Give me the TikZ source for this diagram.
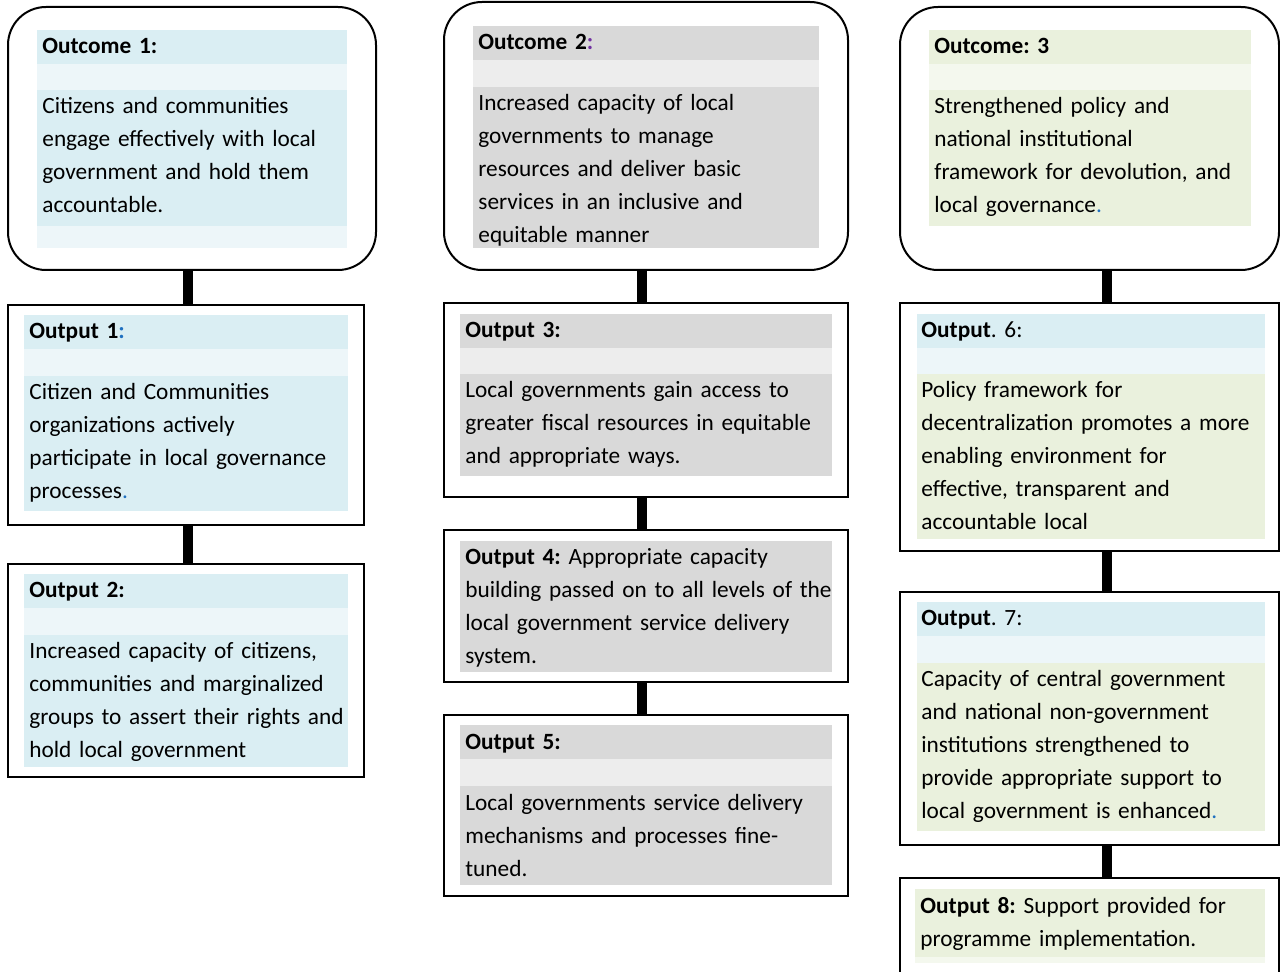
\documentclass[tikz,border=0pt]{standalone}
\usepackage{fontspec}
\setmainfont{Carlito}
\usetikzlibrary{fit}

\definecolor{blueA}{HTML}{DAEEF3}
\definecolor{blueB}{HTML}{EDF6F9}
\definecolor{grayA}{HTML}{D9D9D9}
\definecolor{grayB}{HTML}{EDEDED}
\definecolor{greenA}{HTML}{EAF1DD}
\definecolor{greenB}{HTML}{F4F8EE}
\definecolor{dotblue}{HTML}{1F70C0}
\definecolor{dotpurple}{HTML}{7030A0}

\tikzset{
  box/.style={draw=black, line width=1pt, inner sep=0pt},
  roundbox/.style={box, rounded corners=19pt},
  link/.style={line width=5pt},
  txt/.style={anchor=base west, inner sep=0pt, text width=195pt, align=left,
    font=\fontsize{11.65}{16.5}\selectfont\frenchspacing},
}

\begin{document}
\begin{tikzpicture}[x=0.5pt,y=-0.5pt]
\clip (0,0) rectangle (1280,972);
\fill[white] (0,0) rectangle (1280,972);

\coordinate (c1) at (188,0);
\coordinate (c2) at (642,0);
\coordinate (c3) at (1107,0);

  \node[roundbox, fit={(8,7) (376,270)}] (oc1) {};
  \node[box, fit={(8,305) (364,525)}] (op1) {};
  \node[box, fit={(8,564) (364,777)}] (op2) {};

  \node[roundbox, fit={(444,2) (848,270)}] (oc2) {};
  \node[box, fit={(444,303) (848,497)}] (op3) {};
  \node[box, fit={(444,530) (848,682)}] (op4) {};
  \node[box, fit={(444,715) (848,896)}] (op5) {};

  \node[roundbox, fit={(900,7) (1279,270)}] (oc3) {};
  \node[box, fit={(900,303) (1279,551)}] (op6) {};
  \node[box, fit={(900,592) (1279,845)}] (op7) {};
  \node[box, fit={(900,878) (1279,1000)}] (op8) {};

\fill[blueA] (37,30) rectangle (347,64);
\fill[blueB] (37,64) rectangle (347,90);
\fill[blueA] (37,90) rectangle (347,226);
\fill[blueB] (37,226) rectangle (347,248);

\fill[blueA] (24,315) rectangle (348,349);
\fill[blueB] (24,349) rectangle (348,376);
\fill[blueA] (24,376) rectangle (348,511);

\fill[blueA] (24,574) rectangle (348,608);
\fill[blueB] (24,608) rectangle (348,635);
\fill[blueA] (24,635) rectangle (348,767);

\fill[grayA] (473,26) rectangle (819,60);
\fill[grayB] (473,60) rectangle (819,87);
\fill[grayA] (473,87) rectangle (819,248);

\fill[grayA] (460,314) rectangle (832,348);
\fill[grayB] (460,348) rectangle (832,374);
\fill[grayA] (460,374) rectangle (832,476);

\fill[grayA] (460,541) rectangle (832,672);

\fill[grayA] (460,725) rectangle (832,759);
\fill[grayB] (460,759) rectangle (832,786);
\fill[grayA] (460,786) rectangle (832,885);

\fill[greenA] (929,30) rectangle (1251,64);
\fill[greenB] (929,64) rectangle (1251,90);
\fill[greenA] (929,90) rectangle (1251,226);

\fill[blueA] (917,314) rectangle (1265,348);
\fill[blueB] (917,348) rectangle (1265,374);
\fill[greenA] (917,374) rectangle (1265,539);

\fill[blueA] (917,602) rectangle (1265,636);
\fill[blueB] (917,636) rectangle (1265,663);
\fill[greenA] (917,663) rectangle (1265,831);

\fill[greenA] (915,889) rectangle (1265,957);
\fill[greenB] (915,957) rectangle (1265,963);

  \node[txt] (oc1h) at (42,54) {\textbf{Outcome 1:}};
  \node[txt] (oc1b) at (42,114) {Citizens and communities\\engage effectively with local\\government and hold them\\accountable.};
  \node[txt] (op1h) at (29,339) {\textbf{Output 1\textcolor{dotblue}{:}}};
  \node[txt] (op1b) at (29,400) {Citizen and Communities\\organizations actively\\participate in local governance\\processes\textcolor{dotblue}{.}};
  \node[txt] (op2h) at (29,598) {\textbf{Output 2:}};
  \node[txt] (op2b) at (29,659) {Increased capacity of citizens,\\communities and marginalized\\groups to assert their rights and\\hold local government};

  \node[txt] (oc2h) at (478,50) {\textbf{Outcome 2\textcolor{dotpurple}{:}}};
  \node[txt] (oc2b) at (478,111) {Increased capacity of local\\governments to manage\\resources and deliver basic\\services in an inclusive and\\equitable manner};
  \node[txt] (op3h) at (465,338) {\textbf{Output 3:}};
  \node[txt] (op3b) at (465,398) {Local governments gain access to\\greater fiscal resources in equitable\\and appropriate ways.};
  \node[txt] (op4b) at (465,565) {\textbf{Output 4:} Appropriate capacity\\building passed on to all levels of the\\local government service delivery\\system.};
  \node[txt] (op5h) at (465,749) {\textbf{Output 5:}};
  \node[txt] (op5b) at (465,810) {Local governments service delivery\\mechanisms and processes fine-\\tuned.};

  \node[txt] (oc3h) at (934,54) {\textbf{Outcome: 3}};
  \node[txt] (oc3b) at (934,114) {Strengthened policy and\\national institutional\\framework for devolution, and\\local governance\textcolor{dotblue}{.}};
  \node[txt] (op6h) at (921,338) {\textbf{Output}. 6:};
  \node[txt] (op6b) at (921,398) {Policy framework for\\decentralization promotes a more\\enabling environment for\\effective, transparent and\\accountable local};
  \node[txt] (op7h) at (921,626) {\textbf{Output}. 7:};
  \node[txt] (op7b) at (921,687) {Capacity of central government\\and national non-government\\institutions strengthened to\\provide appropriate support to\\local government is enhanced\textcolor{dotblue}{.}};
  \node[txt] (op8b) at (920,913) {\textbf{Output 8:} Support provided for\\programme implementation.};

\draw[link] (oc1.south -| c1) -- (op1.north -| c1);
\draw[link] (op1.south -| c1) -- (op2.north -| c1);
\draw[link] (oc2.south -| c2) -- (op3.north -| c2);
\draw[link] (op3.south -| c2) -- (op4.north -| c2);
\draw[link] (op4.south -| c2) -- (op5.north -| c2);
\draw[link] (oc3.south -| c3) -- (op6.north -| c3);
\draw[link] (op6.south -| c3) -- (op7.north -| c3);
\draw[link] (op7.south -| c3) -- (op8.north -| c3);
\end{tikzpicture}
\end{document}
